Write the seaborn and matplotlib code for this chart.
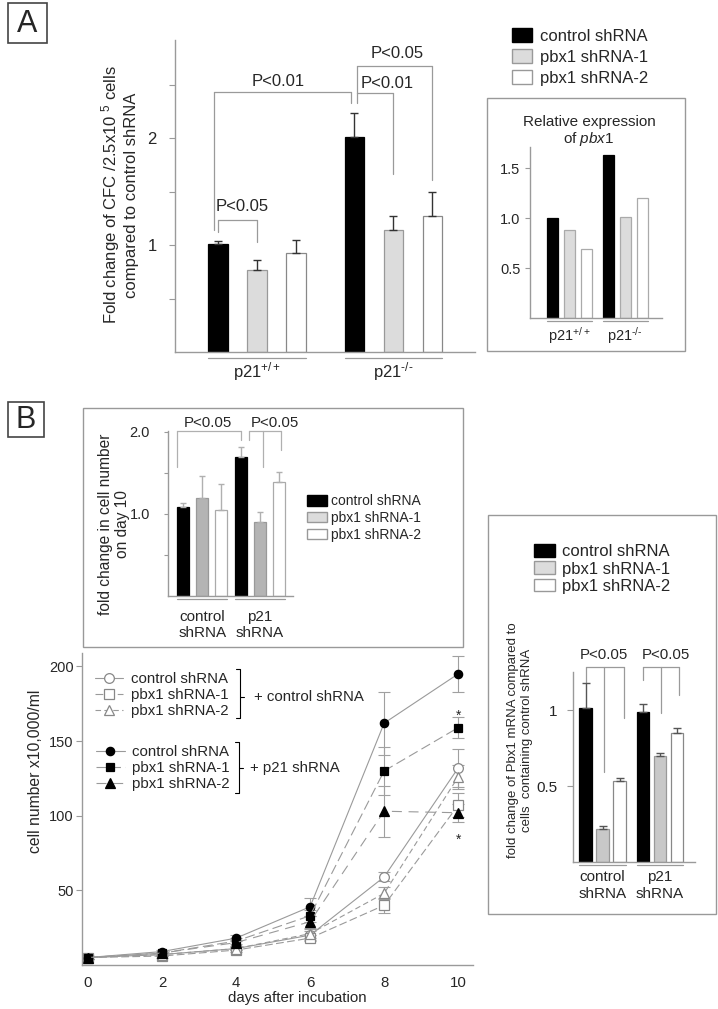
import numpy as np
import pandas as pd
import matplotlib
matplotlib.use('Agg')
import matplotlib.pyplot as plt
import seaborn as sns
from matplotlib.patches import Patch, Rectangle

W, H = 718, 1009

conditions = ['control shRNA', 'pbx1 shRNA-1', 'pbx1 shRNA-2']

# panel A: CFC fold change
a_groups = ['p21$^{+/+}$', 'p21$^{\u2010/\u2010}$']
a_ctrl = [1.01, 2.01]
a_sh1 = [0.77, 1.14]
a_sh2 = [0.93, 1.27]
a_ctrl_err = [0.03, 0.23]
a_sh1_err = [0.09, 0.13]
a_sh2_err = [0.12, 0.23]

# panel A inset: relative expression of pbx1
ia_ctrl = [1.00, 1.63]
ia_sh1 = [0.88, 1.01]
ia_sh2 = [0.69, 1.20]

# panel B inset: fold change in cell number on day 10
b1_groups = ['control\nshRNA', 'p21\nshRNA']
b1_ctrl = [1.08, 1.69]
b1_sh1 = [1.19, 0.90]
b1_sh2 = [1.05, 1.39]
b1_ctrl_err = [0.05, 0.13]
b1_sh1_err = [0.27, 0.12]
b1_sh2_err = [0.32, 0.12]

# panel B right: Pbx1 mRNA
b2_ctrl = [1.01, 0.99]
b2_sh1 = [0.22, 0.70]
b2_sh2 = [0.53, 0.85]
b2_ctrl_err = [0.17, 0.05]
b2_sh1_err = [0.02, 0.02]
b2_sh2_err = [0.02, 0.03]

# panel B growth curves (cell number x10,000/ml)
days = [0, 2, 4, 6, 8, 10]
cc_ctrl = [5, 7, 11, 20, 59, 132]      # + control shRNA
cc_sh1 = [5, 6, 10, 18, 40, 107]
cc_sh2 = [5, 7, 11, 21, 48, 126]
cc_ctrl_err = [1, 1, 1, 3, 3, 13]
cc_sh1_err = [1, 1, 1, 2, 5, 8]
cc_sh2_err = [1, 1, 1, 3, 4, 8]
pc_ctrl = [5, 9, 18, 39, 162, 195]     # + p21 shRNA
pc_sh1 = [5, 8, 16, 33, 130, 159]
pc_sh2 = [5, 8, 15, 29, 103, 102]
pc_ctrl_err = [1, 1, 2, 6, 21, 12]
pc_sh1_err = [1, 1, 2, 4, 16, 7]
pc_sh2_err = [1, 1, 2, 4, 17, 6]

sns.set_style('ticks')
plt.rcParams['font.family'] = ['Liberation Sans', 'DejaVu Sans']
plt.rcParams['mathtext.fontset'] = 'custom'
plt.rcParams['mathtext.rm'] = 'Liberation Sans'
plt.rcParams['mathtext.it'] = 'Liberation Sans:italic'
plt.rcParams['mathtext.bf'] = 'Liberation Sans:bold'

fig = plt.figure(figsize=(W / 100, H / 100), dpi=100)
GRAY = '#9a9a9a'


def px_axes(x0, y0, x1, y1):
    return fig.add_axes([x0 / W, 1 - y1 / H, (x1 - x0) / W, (y1 - y0) / H])


def ftext(x, y, s, **kw):
    kw.setdefault('ha', 'center')
    kw.setdefault('va', 'center')
    fig.text(x / W, 1 - y / H, s, **kw)


def frame(x0, y0, x1, y1, color='#999', lw=1.0):
    fig.add_artist(Rectangle((x0 / W, 1 - y1 / H), (x1 - x0) / W, (y1 - y0) / H,
                             transform=fig.transFigure, fill=False, ec=color, lw=lw))


def bar_panel(ax, groups, vals, errs, width, gap, fills, edges, ecolor='#444', cap=3):
    df = pd.DataFrame({
        'group': np.tile(groups, len(conditions)),
        'cond': np.repeat(conditions, len(groups)),
        'val': np.concatenate(vals),
    })
    sns.barplot(data=df, x='group', y='val', hue='cond', order=groups, hue_order=conditions,
                palette=fills, width=width, gap=gap, errorbar=None, legend=False,
                saturation=1, linewidth=0.9, ax=ax)
    centers, lefts, rights = [], [], []
    for cont, ec in zip(ax.containers, edges):
        for b in cont:
            b.set_edgecolor(ec)
        centers.append([b.get_x() + b.get_width() / 2 for b in cont])
        lefts.append([b.get_x() for b in cont])
        rights.append([b.get_x() + b.get_width() for b in cont])
    if errs is not None:
        for h in range(len(conditions)):
            ax.errorbar(centers[h], vals[h], yerr=[np.zeros(len(groups)), errs[h]],
                        fmt='none', ecolor=ecolor, elinewidth=1, capsize=cap, capthick=1, zorder=3)
    # lines under each group
    for g in range(len(groups)):
        ax.plot([lefts[0][g], rights[2][g]], [-0.018, -0.018], transform=ax.get_xaxis_transform(),
                color=GRAY, lw=0.9, clip_on=False)
    return centers


def style_axes(ax, xlim, ylim, yticks, ylabels, fs, pad, tlen, xfs, xpad):
    ax.set_xlim(*xlim)
    ax.set_ylim(*ylim)
    sns.despine(ax=ax)
    for s in ['left', 'bottom']:
        ax.spines[s].set_color(GRAY)
        ax.spines[s].set_linewidth(1)
    ax.set_yticks(yticks)
    ax.set_yticklabels(ylabels)
    ax.tick_params(axis='y', length=tlen, width=0.8, color=GRAY, labelsize=fs, pad=pad)
    ax.tick_params(axis='x', length=0, labelsize=xfs, pad=xpad)
    ax.set_xlabel('')
    ax.set_ylabel('')
    ax.patch.set_alpha(0)


def bracket(ax, x0, x1, y, legs, text, tx, ty, fs, color=GRAY):
    ax.plot([x0, x1], [y, y], color=color, lw=0.9, clip_on=False)
    for x, yb in legs:
        ax.plot([x, x], [y, yb], color=color, lw=0.9, clip_on=False)
    ax.text(tx, ty, text, ha='center', va='center', fontsize=fs, clip_on=False)


# ---------------- panel A ----------------
frame(8, 3, 47, 43, '#444', 1.2)
ftext(27.5, 23.5, 'A', fontsize=22)

axA = px_axes(175, 40, 475, 352)
cA = bar_panel(axA, a_groups, [a_ctrl, a_sh1, a_sh2], [a_ctrl_err, a_sh1_err, a_sh2_err],
               width=0.857, gap=0.49, fills=['black', '#dcdcdc', 'white'],
               edges=['black', '#999', '#888'], ecolor='#333', cap=3)
style_axes(axA, (-0.600, 1.597), (0, 2.92), [0.5, 1, 1.5, 2, 2.5], ['', '1', '', '2', ''],
           12, 9, 4, 12, 6)
sA = 0.2857 / 39  # data units per pixel
bracket(axA, cA[0][0], cA[1][0], 1.24, [(cA[0][0], 1.12), (cA[1][0], 1.03)],
        'P<0.05', cA[0][0] + 24 * sA, 1.36, 12)
bracket(axA, cA[0][0] - 4 * sA, cA[0][1] - 3 * sA, 2.43,
        [(cA[0][0] - 4 * sA, 1.14), (cA[0][1] - 3 * sA, 2.33)],
        'P<0.01', cA[0][0] + 60 * sA, 2.53, 12)
bracket(axA, cA[0][1] + 3 * sA, cA[1][1], 2.42, [(cA[0][1] + 3 * sA, 2.33), (cA[1][1], 1.67)],
        'P<0.01', cA[0][1] + 33 * sA, 2.51, 12)
bracket(axA, cA[0][1] + 3 * sA, cA[2][1], 2.68, [(cA[0][1] + 3 * sA, 2.42), (cA[2][1], 1.61)],
        'P<0.05', cA[0][1] + 43 * sA, 2.79, 12)
ftext(119, 195, 'Fold change of CFC /2.5x10 $^{5}$ cells\ncompared to control shRNA',
      rotation=90, fontsize=12, linespacing=1.1)

legend_handles = [Patch(fc='black', ec='black'), Patch(fc='#dcdcdc', ec='#999'),
                  Patch(fc='white', ec='#999')]
fig.legend(legend_handles, conditions, loc='center left', bbox_to_anchor=(512 / W, 1 - 57 / H),
           frameon=False, fontsize=12, handlelength=1.2, handleheight=0.85, handletextpad=0.5,
           labelspacing=0.33, borderpad=0, borderaxespad=0)

# inset A
frame(487, 98, 685, 351)
ftext(589, 122, 'Relative expression', fontsize=11)
ftext(589, 139, 'of $\\mathit{pbx1}$', fontsize=11)
axIA = px_axes(530, 147, 662, 318)
bar_panel(axIA, a_groups, [ia_ctrl, ia_sh1, ia_sh2], None, width=0.911, gap=0.35,
          fills=['black', '#dcdcdc', 'white'], edges=['black', '#aaa', '#aaa'])
style_axes(axIA, (-0.697, 1.660), (0, 1.71), [0.5, 1.0, 1.5], ['0.5', '1.0', '1.5'],
           10.5, 3.5, 3.5, 10.5, 5)

# ---------------- panel B ----------------
frame(8, 402, 44, 437, '#444', 1.2)
ftext(26, 420, 'B', fontsize=22)

# inset B1
frame(83, 408, 463, 647)
axB1 = px_axes(168, 431, 293, 596)
cB1 = bar_panel(axB1, b1_groups, [b1_ctrl, b1_sh1, b1_sh2], [b1_ctrl_err, b1_sh1_err, b1_sh2_err],
                width=1.0, gap=0.375, fills=['black', '#b4b4b4', 'white'],
                edges=['black', '#999', '#aaa'], ecolor='#b0b0b0', cap=2.5)
style_axes(axB1, (-0.594, 1.577), (0, 2.01), [0.5, 1, 1.5, 2], ['', '1.0', '', '2.0'],
           10.5, 10, 3, 11, 10)
s1 = 0.3333 / 19.2
bracket(axB1, cB1[0][0] - 6 * s1, cB1[0][1], 2.01, [(cB1[0][0] - 6 * s1, 1.57), (cB1[0][1], 1.90)],
        'P<0.05', cB1[0][0] + 25 * s1, 2.11, 10.8, color='#b0b0b0')
bracket(axB1, cB1[0][1] + 8 * s1, cB1[2][1] + 2 * s1, 2.01,
        [(cB1[0][1] + 8 * s1, 1.90), (cB1[1][1] + 3 * s1, 1.57), (cB1[2][1] + 2 * s1, 1.78)],
        'P<0.05', cB1[0][1] + 34 * s1, 2.11, 10.8, color='#b0b0b0')
ftext(114, 524, 'fold change in cell number\non day 10', rotation=90, fontsize=11.2,
      linespacing=1.1)
fig.legend([Patch(fc='black', ec='black'), Patch(fc='#dcdcdc', ec='#999'),
            Patch(fc='white', ec='#999')], conditions, loc='center left',
           bbox_to_anchor=(307 / W, 1 - 518 / H), frameon=False, fontsize=10,
           handlelength=1.45, handleheight=0.8, handletextpad=0.3, labelspacing=0.2,
           borderpad=0, borderaxespad=0)

# inset B2
frame(488, 515, 716, 914)
axB2 = px_axes(573, 672, 695, 862)
cB2 = bar_panel(axB2, b1_groups, [b2_ctrl, b2_sh1, b2_sh2], [b2_ctrl_err, b2_sh1_err, b2_sh2_err],
                width=0.887, gap=0.27, fills=['black', '#c8c8c8', 'white'],
                edges=['black', '#999', '#888'], ecolor='#555', cap=3)
style_axes(axB2, (-0.513, 1.608), (0, 1.25), [0.5, 1], ['0.5', '1'], 11, 7, 4, 11, 6)
s2 = 0.296 / 17
bracket(axB2, cB2[0][0], cB2[2][0] + 4 * s2, 1.28,
        [(cB2[0][0], 1.18), (cB2[1][0] + 1 * s2, 0.59), (cB2[2][0] + 4 * s2, 0.95)],
        'P<0.05', cB2[1][0] + 1.5 * s2, 1.36, 10.8)
bracket(axB2, cB2[0][1], cB2[2][1] + 2 * s2, 1.28,
        [(cB2[0][1], 1.20), (cB2[1][1] + 1 * s2, 0.98), (cB2[2][1] + 2 * s2, 1.10)],
        'P<0.05', cB2[1][1] + 5.5 * s2, 1.36, 10.8)
ftext(520, 740, 'fold change of Pbx1 mRNA compared to\ncells  containing control shRNA',
      rotation=90, fontsize=9.5, linespacing=1.2)
fig.legend([Patch(fc='black', ec='black'), Patch(fc='#dcdcdc', ec='#999'),
            Patch(fc='white', ec='#999')], conditions, loc='center left',
           bbox_to_anchor=(534 / W, 1 - 569 / H), frameon=False, fontsize=12,
           handlelength=1.25, handleheight=0.78, handletextpad=0.42, labelspacing=0.13,
           borderpad=0, borderaxespad=0)

# growth curves
axL = px_axes(82, 653, 473, 965)
curves = [
    ('control shRNA', cc_ctrl, cc_ctrl_err, 'o', 'white', '#888', '-', 7),
    ('pbx1 shRNA-1', cc_sh1, cc_sh1_err, 's', 'white', '#888', (0, (7, 3)), 6.5),
    ('pbx1 shRNA-2', cc_sh2, cc_sh2_err, '^', 'white', '#888', (0, (5, 3)), 7),
    ('control shRNA', pc_ctrl, pc_ctrl_err, 'o', 'black', 'black', '-', 6),
    ('pbx1 shRNA-1', pc_sh1, pc_sh1_err, 's', 'black', 'black', (0, (9, 4)), 6),
    ('pbx1 shRNA-2', pc_sh2, pc_sh2_err, '^', 'black', 'black', (0, (9, 6)), 6.5),
]
handles = []
for label, vals, errs, mk, face, edge, ls, ms in curves:
    sns.lineplot(x=days, y=vals, ax=axL, color=GRAY, lw=0.8, linestyle=ls, marker=mk,
                 markersize=ms, markerfacecolor=face, markeredgecolor=edge,
                 markeredgewidth=0.9, errorbar=None)
    line = axL.lines[-1]
    line.set_label(label)
    handles.append(line)
    axL.errorbar(days, vals, yerr=errs, fmt='none', ecolor='#a0a0a0', elinewidth=0.8,
                 capsize=4, capthick=0.8, zorder=1)

axL.set_xlim(-0.16, 10.4)
axL.set_ylim(0, 209)
sns.despine(ax=axL)
for s in ['left', 'bottom']:
    axL.spines[s].set_color(GRAY)
    axL.spines[s].set_linewidth(1)
axL.set_xticks(days)
axL.set_yticks([50, 100, 150, 200])
axL.tick_params(axis='y', length=4, width=0.8, color=GRAY, labelsize=10.5, pad=2)
axL.tick_params(axis='x', length=0, labelsize=10.8, pad=8)
axL.set_xlabel('')
axL.set_ylabel('')
axL.patch.set_alpha(0)
ftext(297, 998, 'days after incubation', fontsize=10.8)
ftext(36, 771, 'cell number x10,000/ml', rotation=90, fontsize=11.3)

axL.text(10, 167, '*', ha='center', va='center', fontsize=10)
axL.text(10, 84, '*', ha='center', va='center', fontsize=10)

leg_kw = dict(loc='center left', frameon=False, fontsize=10.8, handlelength=1.9,
              handletextpad=0.5, labelspacing=0.15, borderpad=0, borderaxespad=0)
leg1 = axL.legend(handles=handles[:3], bbox_to_anchor=(0.033, 0.865), **leg_kw)
axL.add_artist(leg1)
axL.legend(handles=handles[3:], bbox_to_anchor=(0.036, 0.631), **leg_kw)

tr = axL.transAxes
axL.plot([0.394, 0.404, 0.404, 0.394], [0.949, 0.949, 0.792, 0.792], transform=tr,
         color='black', lw=0.8, clip_on=False)
axL.plot([0.404, 0.414], [0.859, 0.859], transform=tr, color='black', lw=0.8, clip_on=False)
axL.text(0.44, 0.859, '+ control shRNA', transform=tr, ha='left', va='center', fontsize=10.8)
axL.plot([0.392, 0.402, 0.402, 0.392], [0.715, 0.715, 0.551, 0.551], transform=tr,
         color='black', lw=0.8, clip_on=False)
axL.plot([0.402, 0.412], [0.631, 0.631], transform=tr, color='black', lw=0.8, clip_on=False)
axL.text(0.43, 0.631, '+ p21 shRNA', transform=tr, ha='left', va='center', fontsize=10.8)

fig.savefig('out.png', dpi=100)
